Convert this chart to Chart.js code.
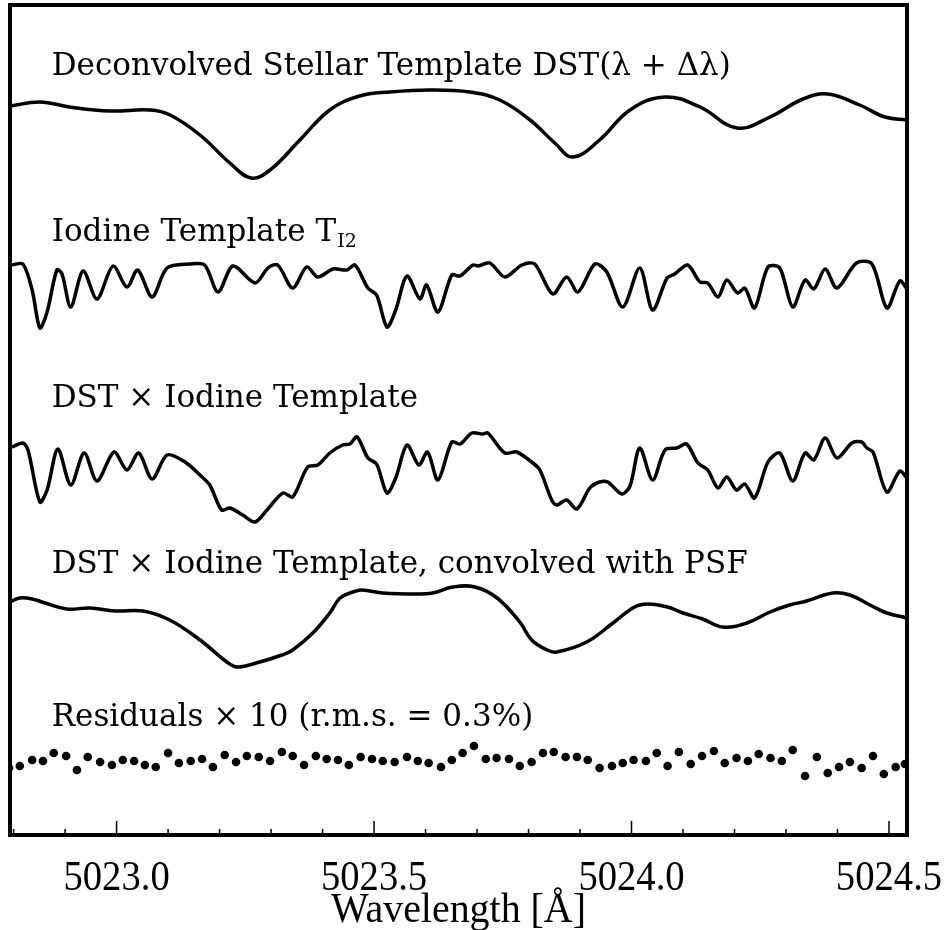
<!DOCTYPE html>
<html>
<head>
<meta charset="utf-8">
<script src="https://cdn.jsdelivr.net/npm/chart.js@4"></script>
<style>
  body { margin: 0; background: #fff; }
  canvas { display: block; }
</style>
</head>
<body>
<canvas id="spectra" width="946" height="930"></canvas>
<script>
"use strict";

// wavelength range of the plot [A]
const waveMin = 5022.793;
const waveMax = 5024.535;

// deconvolved stellar template (flux + offset)
const dstWave = [5022.793, 5022.851, 5022.909, 5022.987, 5023.065, 5023.104, 5023.162, 5023.220,
  5023.261, 5023.298, 5023.356, 5023.414, 5023.472, 5023.531, 5023.608, 5023.686, 5023.744,
  5023.803, 5023.851, 5023.886, 5023.938, 5023.997, 5024.065, 5024.133, 5024.205, 5024.269,
  5024.333, 5024.381, 5024.443, 5024.492, 5024.535];
const dstFlux = [7.29, 7.33, 7.28, 7.24, 7.25, 7.20, 7.00, 6.72, 6.57, 6.65, 6.95, 7.25, 7.39,
  7.43, 7.45, 7.43, 7.35, 7.15, 6.92, 6.78, 6.95, 7.25, 7.38, 7.28, 7.07, 7.18, 7.36, 7.41,
  7.30, 7.18, 7.15];

// iodine template
const iodWave = [5022.797, 5022.818, 5022.836, 5022.851, 5022.865, 5022.884, 5022.894, 5022.911,
  5022.935, 5022.962, 5022.993, 5023.020, 5023.041, 5023.069, 5023.098, 5023.142, 5023.171,
  5023.197, 5023.226, 5023.269, 5023.294, 5023.313, 5023.342, 5023.369, 5023.391, 5023.420,
  5023.447, 5023.463, 5023.488, 5023.505, 5023.525, 5023.542, 5023.564, 5023.589, 5023.602,
  5023.624, 5023.651, 5023.667, 5023.692, 5023.702, 5023.725, 5023.754, 5023.787, 5023.812,
  5023.847, 5023.874, 5023.896, 5023.929, 5023.952, 5023.983, 5024.016, 5024.041, 5024.069,
  5024.084, 5024.109, 5024.133, 5024.148, 5024.168, 5024.185, 5024.206, 5024.220, 5024.239,
  5024.265, 5024.288, 5024.313, 5024.337, 5024.354, 5024.376, 5024.399, 5024.437, 5024.467,
  5024.496, 5024.521, 5024.535];
const iodFlux = [5.70, 5.71, 5.45, 5.07, 5.23, 5.65, 5.61, 5.28, 5.64, 5.36, 5.69, 5.48, 5.65,
  5.38, 5.67, 5.71, 5.70, 5.43, 5.69, 5.52, 5.67, 5.70, 5.47, 5.68, 5.58, 5.66, 5.65, 5.70,
  5.47, 5.40, 5.08, 5.25, 5.59, 5.36, 5.50, 5.23, 5.60, 5.59, 5.70, 5.69, 5.72, 5.58, 5.70,
  5.71, 5.41, 5.58, 5.43, 5.71, 5.63, 5.28, 5.67, 5.25, 5.57, 5.61, 5.70, 5.53, 5.52, 5.38,
  5.55, 5.42, 5.47, 5.27, 5.68, 5.67, 5.28, 5.55, 5.46, 5.66, 5.47, 5.72, 5.71, 5.27, 5.54,
  5.46];

// DST x iodine
const prodWave = [5022.797, 5022.818, 5022.828, 5022.851, 5022.865, 5022.886, 5022.911, 5022.937,
  5022.962, 5022.995, 5023.020, 5023.043, 5023.069, 5023.098, 5023.133, 5023.166, 5023.181,
  5023.204, 5023.220, 5023.245, 5023.269, 5023.292, 5023.323, 5023.342, 5023.371, 5023.391,
  5023.414, 5023.439, 5023.453, 5023.467, 5023.488, 5023.505, 5023.525, 5023.542, 5023.564,
  5023.587, 5023.604, 5023.624, 5023.651, 5023.667, 5023.690, 5023.711, 5023.721, 5023.754,
  5023.777, 5023.806, 5023.822, 5023.845, 5023.855, 5023.874, 5023.894, 5023.919, 5023.938,
  5023.954, 5023.981, 5023.997, 5024.016, 5024.041, 5024.065, 5024.088, 5024.107, 5024.129,
  5024.148, 5024.168, 5024.185, 5024.204, 5024.220, 5024.239, 5024.265, 5024.288, 5024.313,
  5024.337, 5024.354, 5024.376, 5024.399, 5024.428, 5024.447, 5024.457, 5024.469, 5024.496,
  5024.521, 5024.535];
const prodFlux = [3.88, 3.92, 3.85, 3.33, 3.45, 3.86, 3.50, 3.82, 3.54, 3.83, 3.65, 3.82, 3.56,
  3.80, 3.73, 3.58, 3.50, 3.25, 3.27, 3.20, 3.13, 3.25, 3.42, 3.38, 3.68, 3.70, 3.82, 3.90,
  3.91, 3.98, 3.77, 3.71, 3.42, 3.57, 3.90, 3.70, 3.83, 3.55, 3.93, 3.91, 4.02, 4.01, 4.02,
  3.82, 3.83, 3.73, 3.65, 3.35, 3.30, 3.35, 3.26, 3.47, 3.53, 3.53, 3.41, 3.49, 3.87, 3.55,
  3.85, 3.87, 3.91, 3.72, 3.65, 3.47, 3.58, 3.45, 3.51, 3.37, 3.73, 3.82, 3.54, 3.82, 3.75,
  3.97, 3.77, 3.92, 3.93, 3.87, 3.83, 3.43, 3.64, 3.57];

// DST x iodine convolved with PSF
const convWave = [5022.793, 5022.812, 5022.836, 5022.861, 5022.903, 5022.948, 5022.997, 5023.051,
  5023.103, 5023.162, 5023.214, 5023.234, 5023.278, 5023.321, 5023.342, 5023.381, 5023.414,
  5023.434, 5023.459, 5023.476, 5023.517, 5023.583, 5023.614, 5023.653, 5023.696, 5023.739,
  5023.783, 5023.806, 5023.836, 5023.855, 5023.913, 5023.964, 5024.006, 5024.032, 5024.070,
  5024.100, 5024.138, 5024.177, 5024.224, 5024.269, 5024.307, 5024.340, 5024.391, 5024.424,
  5024.463, 5024.496, 5024.535];
const convFlux = [2.33, 2.37, 2.36, 2.32, 2.26, 2.27, 2.24, 2.24, 2.15, 1.95, 1.73, 1.68, 1.73,
  1.80, 1.85, 2.02, 2.22, 2.37, 2.43, 2.45, 2.42, 2.41, 2.42, 2.48, 2.48, 2.37, 2.13, 1.95,
  1.85, 1.83, 1.93, 2.12, 2.28, 2.31, 2.28, 2.22, 2.16, 2.08, 2.12, 2.23, 2.30, 2.34, 2.42,
  2.40, 2.30, 2.22, 2.17];

// residuals x 10
const resWave = [5022.791, 5022.812, 5022.836, 5022.857, 5022.878, 5022.902, 5022.923, 5022.944,
  5022.968, 5022.991, 5023.012, 5023.034, 5023.055, 5023.076, 5023.100, 5023.121, 5023.144,
  5023.166, 5023.187, 5023.210, 5023.232, 5023.253, 5023.276, 5023.298, 5023.321, 5023.342,
  5023.364, 5023.387, 5023.408, 5023.430, 5023.451, 5023.474, 5023.496, 5023.517, 5023.540,
  5023.564, 5023.585, 5023.606, 5023.630, 5023.651, 5023.672, 5023.694, 5023.717, 5023.738,
  5023.762, 5023.783, 5023.806, 5023.828, 5023.849, 5023.872, 5023.894, 5023.915, 5023.938,
  5023.962, 5023.983, 5024.004, 5024.028, 5024.049, 5024.070, 5024.092, 5024.115, 5024.137,
  5024.160, 5024.181, 5024.204, 5024.226, 5024.247, 5024.270, 5024.292, 5024.313, 5024.337,
  5024.360, 5024.381, 5024.403, 5024.424, 5024.447, 5024.469, 5024.490, 5024.513, 5024.531];
const resFlux = [0.67, 0.69, 0.75, 0.74, 0.82, 0.79, 0.65, 0.78, 0.73, 0.70,
  0.75, 0.74, 0.70, 0.68, 0.82, 0.72, 0.74, 0.76, 0.68, 0.80,
  0.73, 0.79, 0.78, 0.74, 0.83, 0.79, 0.70, 0.79, 0.76, 0.75,
  0.70, 0.78, 0.76, 0.74, 0.73, 0.78, 0.74, 0.72, 0.68, 0.75,
  0.82, 0.89, 0.76, 0.77, 0.76, 0.69, 0.73, 0.82, 0.83, 0.78,
  0.78, 0.75, 0.67, 0.69, 0.72, 0.75, 0.74, 0.82, 0.69, 0.83,
  0.71, 0.79, 0.84, 0.72, 0.77, 0.74, 0.81, 0.77, 0.74, 0.85,
  0.59, 0.78, 0.62, 0.68, 0.73, 0.67, 0.79, 0.61, 0.68, 0.71];

// panel captions: [text, subscript]
const panelTitles = [
  ["Deconvolved Stellar Template DST(\u03bb + \u0394\u03bb)", ""],
  ["Iodine Template T", "I2"],
  ["DST \u00d7 Iodine Template", ""],
  ["DST \u00d7 Iodine Template, convolved with PSF", ""],
  ["Residuals \u00d7 10 (r.m.s. = 0.3%)", ""]
];
const titleWave = 5022.874;
const titleLevels = [7.60, 5.94, 4.28, 2.62, 1.09];

const majorTicks = [5023.0, 5023.5, 5024.0, 5024.5];
const minorTicks = [5022.8, 5022.9, 5023.1, 5023.2, 5023.3, 5023.4, 5023.6, 5023.7,
  5023.8, 5023.9, 5024.1, 5024.2, 5024.3, 5024.4];

function pts(xs, ys) {
  return xs.map((x, i) => ({ x: x, y: ys[i] }));
}

function curve(xs, ys, tension) {
  return {
    data: pts(xs, ys),
    borderColor: "#000",
    borderWidth: 3.5,
    pointRadius: 0,
    tension: tension,
    fill: false
  };
}

// frame, inward ticks, captions and axis text
const framePlugin = {
  id: "frame",
  afterDraw(chart) {
    const c = chart.ctx;
    const a = chart.chartArea;
    const sx = chart.scales.x;
    const sy = chart.scales.y;
    c.save();
    c.strokeStyle = "#000";
    c.lineWidth = 4;
    c.strokeRect(a.left, a.top, a.right - a.left, a.bottom - a.top);

    c.lineWidth = 1.5;
    c.beginPath();
    minorTicks.forEach(v => {
      const px = sx.getPixelForValue(v);
      c.moveTo(px, a.bottom);
      c.lineTo(px, a.bottom - 6);
    });
    majorTicks.forEach(v => {
      const px = sx.getPixelForValue(v);
      c.moveTo(px, a.bottom);
      c.lineTo(px, a.bottom - 14);
    });
    c.stroke();

    c.fillStyle = "#000";
    c.textBaseline = "alphabetic";
    c.textAlign = "left";
    panelTitles.forEach((t, i) => {
      const px = sx.getPixelForValue(titleWave);
      const py = sy.getPixelForValue(titleLevels[i]);
      c.font = "31px 'DejaVu Serif'";
      c.fillText(t[0], px, py);
      if (t[1]) {
        const w = c.measureText(t[0]).width;
        c.font = "19px 'DejaVu Serif'";
        c.fillText(t[1], px + w + 1, py + 6);
      }
    });

    // tick labels, a little condensed
    c.textAlign = "center";
    c.font = "42px 'Liberation Serif'";
    sx.ticks.forEach(t => {
      const px = sx.getPixelForValue(t.value);
      c.save();
      c.translate(px, a.bottom + 55);
      c.scale(0.92, 1);
      c.fillText(t.value.toFixed(1), 0, 0);
      c.restore();
    });
    c.save();
    c.translate((a.left + a.right) / 2, a.bottom + 87);
    c.scale(0.95, 1);
    c.fillText("Wavelength [\u00c5]", 0, 0);
    c.restore();
    c.restore();
  }
};

const spectraChart = new Chart(document.getElementById("spectra").getContext("2d"), {
  type: "line",
  data: {
    datasets: [
      curve(dstWave, dstFlux, 0.4),
      curve(iodWave, iodFlux, 0.3),
      curve(prodWave, prodFlux, 0.3),
      curve(convWave, convFlux, 0.4),
      {
        data: pts(resWave, resFlux),
        showLine: false,
        pointRadius: 4.3,
        pointBorderWidth: 0,
        pointBackgroundColor: "#000",
        borderColor: "#000"
      }
    ]
  },
  options: {
    responsive: false,
    animation: false,
    layout: { padding: { left: 10, right: 39, top: 5, bottom: 0 } },
    plugins: {
      legend: { display: false },
      tooltip: { enabled: false }
    },
    scales: {
      x: {
        type: "linear",
        min: waveMin,
        max: waveMax,
        grid: { display: false, drawTicks: false },
        border: { display: false },
        ticks: { display: false, stepSize: 0.5, includeBounds: false },
        afterFit: s => { s.height = 95; }
      },
      y: {
        display: false,
        min: 0,
        max: 8.30
      }
    }
  },
  plugins: [framePlugin]
});
</script>
</body>
</html>
